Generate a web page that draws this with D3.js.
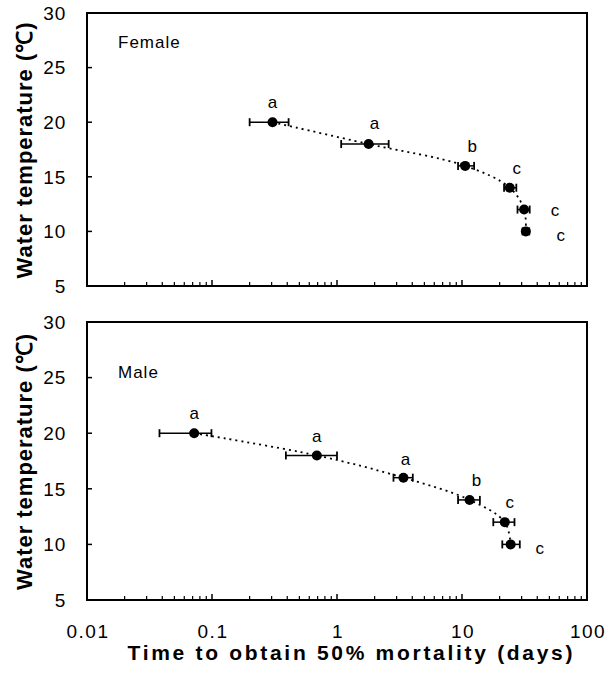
<!DOCTYPE html>
<html>
<head>
<meta charset="utf-8">
<script src="https://cdn.jsdelivr.net/npm/d3@7"></script>
<style>
  body { margin: 0; background: #fff; }
  svg { display: block; font-family: "Liberation Sans", Arial, sans-serif; }
</style>
</head>
<body>
<div id="chart"></div>
<script>
// temperatures (y) shared by both panels
const temps = [20, 18, 16, 14, 12, 10];

// female: time to 50% mortality (days), lower / upper error bar
const femaleTime = [0.305, 1.79, 10.6, 24.1, 31.4, 32.4];
const femaleLo   = [0.20, 1.08, 9.3, 21.7, 27.8, 30.5];
const femaleHi   = [0.41, 2.59, 12.5, 27.2, 34.8, 34.5];
const femaleLetters = ['a', 'a', 'b', 'c', 'c', 'c'];

// male
const maleTime = [0.072, 0.69, 3.4, 11.5, 22, 24.5];
const maleLo   = [0.038, 0.39, 2.83, 9.3, 17.8, 21];
const maleHi   = [0.099, 1.0, 4.04, 13.9, 26.3, 29];
const maleLetters = ['a', 'a', 'a', 'b', 'c', 'c'];

const yTicks = [5, 10, 15, 20, 25, 30];
const xTicks = [0.01, 0.1, 1, 10, 100];

const width = 607, height = 675;

const svg = d3.select('#chart')
  .append('svg')
  .attr('width', width)
  .attr('height', height);

const xScale = d3.scaleLog().domain([0.01, 100]).range([87, 587]);

// letter offsets (label placement relative to point, px)
const femaleLabelOff = [[0, -20], [6, -21], [7, -20], [7, -20], [31, 0], [35, 3]];
const maleLabelOff = [[0, -20], [0, -20], [2, -19], [7, -20], [5, -20], [29, 3]];

function panel(top, bottom, name, nameY, time, lo, hi, letters, offs, showX) {
  const yScale = d3.scaleLinear().domain([5, 30]).range([bottom, top]);
  const g = svg.append('g');

  // frame
  g.append('rect')
    .attr('x', xScale.range()[0])
    .attr('y', top)
    .attr('width', xScale.range()[1] - xScale.range()[0])
    .attr('height', bottom - top)
    .attr('fill', 'none')
    .attr('stroke', '#000')
    .attr('stroke-width', 2);

  // y ticks (inward)
  g.selectAll('.yt').data(yTicks).join('line')
    .attr('x1', xScale.range()[0])
    .attr('x2', xScale.range()[0] + 5)
    .attr('y1', d => yScale(d))
    .attr('y2', d => yScale(d))
    .attr('stroke', '#000')
    .attr('stroke-width', 1.5);

  g.selectAll('.yl').data(yTicks).join('text')
    .attr('x', 66)
    .attr('y', d => yScale(d))
    .attr('dy', '0.36em')
    .attr('text-anchor', 'end')
    .attr('font-size', 19)
    .attr('letter-spacing', 0.8)
    .text(d => d);

  // x ticks, major + minor log ticks (inward)
  const minor = [];
  for (let e = -2; e < 2; e++) {
    for (let m = 2; m <= 9; m++) minor.push(m * Math.pow(10, e));
  }
  g.selectAll('.xm').data(minor).join('line')
    .attr('x1', d => xScale(d))
    .attr('x2', d => xScale(d))
    .attr('y1', bottom)
    .attr('y2', bottom - 4)
    .attr('stroke', '#000')
    .attr('stroke-width', 1.2);
  g.selectAll('.xM').data(xTicks).join('line')
    .attr('x1', d => xScale(d))
    .attr('x2', d => xScale(d))
    .attr('y1', bottom)
    .attr('y2', bottom - 6)
    .attr('stroke', '#000')
    .attr('stroke-width', 1.5);

  if (showX) {
    g.selectAll('.xl').data(xTicks).join('text')
      .attr('x', d => xScale(d) + 1)
      .attr('y', bottom + 38)
      .attr('text-anchor', 'middle')
      .attr('font-size', 19)
      .attr('letter-spacing', 1.5)
      .text(d => d);
  }

  // y title
  g.append('text')
    .attr('transform', `translate(32, ${(top + bottom) / 2 + 1}) rotate(-90)`)
    .attr('text-anchor', 'middle')
    .attr('font-size', 22)
    .attr('font-weight', 'bold')
    .attr('textLength', 256)
    .attr('lengthAdjust', 'spacing')
    .text('Water temperature (℃)');

  // panel name
  g.append('text')
    .attr('x', 118)
    .attr('y', nameY)
    .attr('dy', '0.36em')
    .attr('font-size', 17)
    .attr('letter-spacing', 1)
    .text(name);

  const pts = temps.map((t, i) => ({ t, x: time[i], lo: lo[i], hi: hi[i], lab: letters[i], off: offs[i] }));

  // dotted trend curve
  const line = d3.line()
    .x(d => xScale(d.x))
    .y(d => yScale(d.t))
    .curve(d3.curveCatmullRom);
  g.append('path')
    .datum(pts)
    .attr('d', line)
    .attr('fill', 'none')
    .attr('stroke', '#000')
    .attr('stroke-width', 1.8)
    .attr('stroke-dasharray', '2,4');

  // error bars
  g.selectAll('.eb').data(pts).join('line')
    .attr('x1', d => xScale(d.lo))
    .attr('x2', d => xScale(d.hi))
    .attr('y1', d => yScale(d.t))
    .attr('y2', d => yScale(d.t))
    .attr('stroke', '#000')
    .attr('stroke-width', 1.5);
  g.selectAll('.cl').data(pts).join('line')
    .attr('x1', d => xScale(d.lo))
    .attr('x2', d => xScale(d.lo))
    .attr('y1', d => yScale(d.t) - 4)
    .attr('y2', d => yScale(d.t) + 4)
    .attr('stroke', '#000')
    .attr('stroke-width', 1.8);
  g.selectAll('.cr').data(pts).join('line')
    .attr('x1', d => xScale(d.hi))
    .attr('x2', d => xScale(d.hi))
    .attr('y1', d => yScale(d.t) - 4)
    .attr('y2', d => yScale(d.t) + 4)
    .attr('stroke', '#000')
    .attr('stroke-width', 1.8);

  g.selectAll('.pt').data(pts).join('circle')
    .attr('cx', d => xScale(d.x))
    .attr('cy', d => yScale(d.t))
    .attr('r', 5)
    .attr('fill', '#000');

  g.selectAll('.lab').data(pts).join('text')
    .attr('x', d => xScale(d.x) + d.off[0])
    .attr('y', d => yScale(d.t) + d.off[1])
    .attr('dy', '0.36em')
    .attr('text-anchor', 'middle')
    .attr('font-size', 17)
    .text(d => d.lab);
}

panel(13, 286, 'Female', 42, femaleTime, femaleLo, femaleHi, femaleLetters, femaleLabelOff, false);
panel(322, 600, 'Male', 372, maleTime, maleLo, maleHi, maleLetters, maleLabelOff, true);

svg.append('text')
  .attr('x', 350)
  .attr('y', 660)
  .attr('text-anchor', 'middle')
  .attr('font-size', 21)
  .attr('font-weight', 'bold')
  .attr('textLength', 445)
  .attr('lengthAdjust', 'spacing')
  .text('Time to obtain 50% mortality (days)');
</script>
</body>
</html>
